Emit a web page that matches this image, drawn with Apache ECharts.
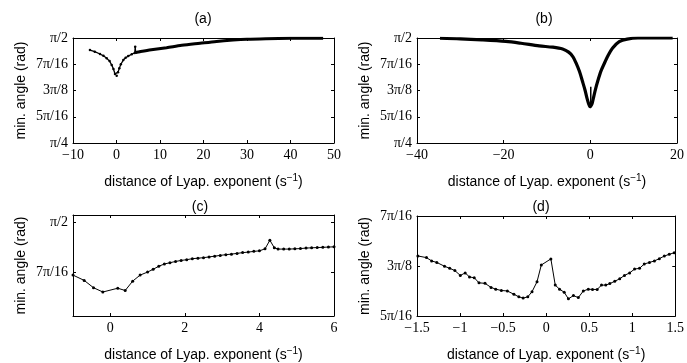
<!DOCTYPE html>
<html>
<head>
<meta charset="utf-8">
<script src="https://cdn.jsdelivr.net/npm/echarts@6/dist/echarts.min.js"></script>
<style>html,body{margin:0;padding:0;background:#fff}#c{width:687px;height:363px}</style>
</head>
<body>
<div id="c"></div>
<script>
// ---------- data (angles in radians) ----------
const panelTitles = ['(a)', '(b)', '(c)', '(d)'];
const xAxisName = 'distance of Lyap. exponent (s';
const yAxisName = 'min. angle (rad)';

// y tick labels (multiples of pi/16)
const yTickK = [4, 5, 6, 7, 8];
const yTickText = ['π/4', '5π/16', '3π/8', '7π/16', 'π/2'];

// panel (a): thin part near zero, thick part at large distances
const aThinX = [-6.1, -5.0, -3.8, -3.0, -2.25, -1.6, -1.1, -0.7, -0.34, 0.04, 0.35, 0.65, 1.0, 1.57, 2.1, 2.7, 3.5, 4.2, 4.3, 4.4, 5.4];
const aThinY = [1.4805, 1.4687, 1.4510, 1.4373, 1.4196, 1.3980, 1.3686, 1.3391, 1.3018, 1.2881, 1.3155, 1.3450, 1.3745, 1.4059, 1.4235, 1.4353, 1.4491, 1.4589, 1.5060, 1.4628, 1.4687];
const aThickX = [4.4, 5.4, 8, 11.5, 15, 19.2, 23, 26.8, 30, 34.5, 40, 47.5];
const aThickY = [1.4628, 1.4687, 1.4824, 1.4981, 1.5158, 1.5315, 1.5453, 1.5551, 1.5610, 1.5649, 1.5680, 1.5688];

// panel (b): main curve and the narrow spike at the minimum
const bX = [-34.7, -30, -25, -19.5, -16, -11.8, -8.7, -6.4, -5, -4, -3.3, -2.5, -1.8, -1.2, -0.76, -0.4, -0.07, 0.4, 0.69, 1.2, 1.68, 2.4, 3.2, 4.1, 5.1, 6.67, 8.5, 11, 15, 19];
const bY = [1.5688, 1.5649, 1.5571, 1.5453, 1.5315, 1.5119, 1.5021, 1.4884, 1.4650, 1.4300, 1.3843, 1.3195, 1.2449, 1.1781, 1.1192, 1.0799, 1.0564, 1.0799, 1.1192, 1.1879, 1.2449, 1.3195, 1.3784, 1.4392, 1.4942, 1.5433, 1.5629, 1.5708, 1.5708, 1.5708];
const bSpikeX = [0.1, 0.1];
const bSpikeY = [1.0564, 1.2056];

// panel (c)
const cX = [-1.0, -0.7, -0.45, -0.2, 0.2, 0.4, 0.6, 0.8, 1.0, 1.15, 1.3, 1.45, 1.6, 1.75, 1.9, 2.05, 2.2, 2.35, 2.5, 2.65, 2.8, 2.95, 3.1, 3.25, 3.4, 3.55, 3.7, 3.85, 4.0, 4.15, 4.28, 4.4, 4.5, 4.65, 4.8, 4.95, 5.1, 5.25, 5.4, 5.55, 5.7, 5.85, 6.0];
const cY = [1.362, 1.341, 1.312, 1.295, 1.310, 1.301, 1.338, 1.362, 1.374, 1.385, 1.397, 1.406, 1.411, 1.416, 1.420, 1.423, 1.427, 1.429, 1.431, 1.434, 1.437, 1.440, 1.443, 1.445, 1.448, 1.451, 1.453, 1.456, 1.458, 1.466, 1.500, 1.470, 1.465, 1.465, 1.465, 1.466, 1.467, 1.469, 1.470, 1.471, 1.472, 1.473, 1.474];

// panel (d)
const dX = [-1.49, -1.39, -1.33, -1.27, -1.18, -1.12, -1.06, -0.997, -0.94, -0.89, -0.835, -0.78, -0.71, -0.64, -0.585, -0.52, -0.45, -0.374, -0.317, -0.267, -0.213, -0.164, -0.106, -0.056, 0.055, 0.106, 0.156, 0.21, 0.259, 0.317, 0.374, 0.432, 0.49, 0.539, 0.593, 0.643, 0.693, 0.74, 0.797, 0.855, 0.91, 0.97, 1.027, 1.085, 1.14, 1.20, 1.258, 1.315, 1.373, 1.43, 1.488];
const dY = [1.2175, 1.211, 1.198, 1.192, 1.177, 1.169, 1.160, 1.141, 1.151, 1.135, 1.132, 1.112, 1.110, 1.094, 1.087, 1.082, 1.080, 1.067, 1.057, 1.052, 1.057, 1.077, 1.116, 1.182, 1.206, 1.103, 1.087, 1.075, 1.049, 1.062, 1.054, 1.080, 1.087, 1.086, 1.086, 1.103, 1.103, 1.109, 1.118, 1.128, 1.141, 1.151, 1.166, 1.169, 1.186, 1.192, 1.198, 1.207, 1.217, 1.224, 1.230];

// axis ranges and ticks
const xRanges = [[-10, 50], [-40, 20], [-1, 6], [-1.5, 1.5]];
const xTicks = [[-10, 0, 10, 20, 30, 40, 50], [-40, -20, 0, 20], [0, 2, 4, 6], [-1.5, -1, -0.5, 0, 0.5, 1, 1.5]];
const yRanges = [[4, 8], [4, 8], [null, null], [5, 7]];
const yRangeC = [1.2, 1.6];
const yTicksK = [[4, 5, 6, 7, 8], [4, 5, 6, 7, 8], [7, 8], [5, 6, 7]];

// ---------- chart ----------
const P = Math.PI / 16;
const grids = [
  {left: 73, top: 38, width: 261, height: 105},
  {left: 417, top: 38, width: 261, height: 105},
  {left: 73, top: 215, width: 261, height: 103},
  {left: 417, top: 216, width: 261, height: 102}
];
const serif = '"Liberation Serif", "Times New Roman", serif';
const sans = '"Liberation Sans", Arial, sans-serif';
function fmtX(v) { return v < 0 ? '−' + Math.abs(v) : String(v); }
function fmtY(v) {
  const k = Math.round(v / P);
  const i = yTickK.indexOf(k);
  return i >= 0 ? yTickText[i] : '';
}
const xAxes = [], yAxes = [];
grids.forEach((g, i) => {
  const xr = xRanges[i];
  const ymin = i === 2 ? yRangeC[0] : yRanges[i][0] * P;
  const ymax = i === 2 ? yRangeC[1] : yRanges[i][1] * P;
  const yvals = yTicksK[i].map(k => k * P);
  const line = {show: true, lineStyle: {color: '#000', width: 1}};
  xAxes.push({
    type: 'value', gridIndex: i, min: xr[0], max: xr[1], position: 'bottom',
    axisLine: Object.assign({onZero: false}, line),
    axisTick: {show: true, inside: true, length: 3, customValues: xTicks[i], lineStyle: {color: '#000'}},
    axisLabel: {show: true, customValues: xTicks[i], formatter: fmtX, color: '#000', fontFamily: serif, fontSize: 14, margin: 5},
    splitLine: {show: false},
    name: '{n|' + xAxisName + '}{s|−1}{n|)}', nameLocation: 'middle', nameGap: 30,
    nameTextStyle: {rich: {
      n: {fontFamily: sans, fontSize: 14, color: '#000', lineHeight: 18},
      s: {fontFamily: sans, fontSize: 10, color: '#000', verticalAlign: 'top', lineHeight: 10}
    }}
  });
  xAxes.push({
    type: 'value', gridIndex: i, min: xr[0], max: xr[1], position: 'top',
    axisLine: Object.assign({onZero: false}, line),
    axisTick: {show: true, inside: true, length: 3, customValues: xTicks[i], lineStyle: {color: '#000'}},
    axisLabel: {show: false}, splitLine: {show: false}
  });
  yAxes.push({
    type: 'value', gridIndex: i, min: ymin, max: ymax, position: 'left',
    axisLine: Object.assign({onZero: false}, line),
    axisTick: {show: true, inside: true, length: 3, customValues: yvals, lineStyle: {color: '#000'}},
    axisLabel: {show: true, customValues: yvals, formatter: fmtY, color: '#000', fontFamily: serif, fontSize: 14, margin: 5},
    splitLine: {show: false},
    name: yAxisName, nameLocation: 'middle', nameGap: 45,
    nameTextStyle: {fontFamily: sans, fontSize: 14, color: '#000'}
  });
  yAxes.push({
    type: 'value', gridIndex: i, min: ymin, max: ymax, position: 'right',
    axisLine: Object.assign({onZero: false}, line),
    axisTick: {show: true, inside: true, length: 3, customValues: yvals, lineStyle: {color: '#000'}},
    axisLabel: {show: false}, splitLine: {show: false}
  });
});

function pairs(xs, ys) { return xs.map((x, i) => [x, ys[i]]); }
function ser(i, xs, ys, width, sym, smooth) {
  return {
    type: 'line', xAxisIndex: 2 * i, yAxisIndex: 2 * i, data: pairs(xs, ys),
    lineStyle: {color: '#000', width: width}, itemStyle: {color: '#000'},
    symbol: sym ? 'circle' : 'none', symbolSize: sym, showSymbol: !!sym, showAllSymbol: true,
    smooth: smooth || false,
    silent: true, animation: false, clip: true
  };
}

const titleX = [203, 544, 200, 541];
const titleY = [12, 12, 200, 200];
const option = {
  backgroundColor: '#fff',
  animation: false,
  title: panelTitles.map((t, i) => ({
    text: t, left: titleX[i], top: titleY[i], textAlign: 'center',
    textStyle: {fontFamily: sans, fontSize: 14, fontWeight: 'normal', color: '#000'}, padding: 0
  })),
  grid: grids,
  xAxis: xAxes,
  yAxis: yAxes,
  series: [
    ser(0, aThinX, aThinY, 1.3, 2.5),
    ser(0, aThickX, aThickY, 3, 0, 0.3),
    ser(1, bX, bY, 3.2, 0, 0.3),
    ser(1, bSpikeX, bSpikeY, 1.5, 0),
    ser(2, cX, cY, 1, 3),
    ser(3, dX, dY, 1, 3)
  ]
};
const chart = echarts.init(document.getElementById('c'), null, {renderer: 'canvas'});
chart.setOption(option);
</script>
</body>
</html>
